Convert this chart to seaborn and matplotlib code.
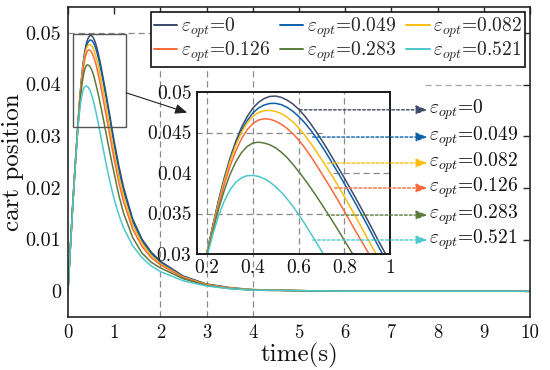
import matplotlib
matplotlib.use("Agg")
import numpy as np
import pandas as pd
import matplotlib.pyplot as plt
import matplotlib.ticker as mticker
from matplotlib.patches import Rectangle
from matplotlib.lines import Line2D
import seaborn as sns

# time axis (s)
time = [0, 0.05, 0.1, 0.15,
        0.2, 0.225, 0.25, 0.275, 0.3, 0.325, 0.35, 0.375, 0.4, 0.425, 0.45, 0.475,
        0.5, 0.525, 0.55, 0.575, 0.6, 0.625, 0.65, 0.675, 0.7, 0.725, 0.75, 0.775, 0.8,
        0.85, 0.9, 0.95, 1.0,
        1.1, 1.2, 1.4, 1.6, 1.8, 2.0, 2.5, 3.0, 3.5, 4.0, 5.0, 6.0, 8.0, 10.0]

# cart position for each epsilon_opt
pos_0 = [0, 0.0082, 0.0162, 0.0236,
         0.0302, 0.03349, 0.0366, 0.03936, 0.0418, 0.04388, 0.0456, 0.04696, 0.0480,
         0.04873, 0.0492, 0.04946, 0.0495, 0.04934, 0.0490, 0.04853, 0.0479, 0.04711,
         0.0462, 0.04519, 0.0441, 0.0430, 0.0418, 0.0406, 0.0394,
         0.0369, 0.0343, 0.0316, 0.0290,
         0.0243, 0.0202, 0.0140, 0.0101, 0.0076, 0.0058, 0.0029, 0.0014, 0.0007,
         0.0003, 0.0001, 0, 0, 0]
pos_049 = [0, 0.0082, 0.0162, 0.0236,
           0.0302, 0.03344, 0.0365, 0.03922, 0.0416, 0.04358, 0.0452, 0.04646, 0.0474,
           0.04803, 0.0484, 0.04859, 0.0486, 0.04844, 0.0481, 0.04763, 0.0470, 0.04627,
           0.0454, 0.04446, 0.0434, 0.04229, 0.0411, 0.03993, 0.0387,
           0.0362, 0.0336, 0.0309, 0.0282,
           0.0235, 0.0195, 0.0135, 0.0097, 0.0073, 0.0056, 0.0028, 0.0013, 0.0006,
           0.0003, 0.0001, 0, 0, 0]
pos_082 = [0, 0.0082, 0.0162, 0.0236,
           0.0301, 0.03329, 0.0363, 0.03901, 0.0414, 0.04339, 0.0450, 0.04618, 0.0470,
           0.04748, 0.0477, 0.04774, 0.0476, 0.04733, 0.0469, 0.04632, 0.0456, 0.04475,
           0.0438, 0.04278, 0.0417, 0.04062, 0.0395, 0.03832, 0.0371,
           0.0346, 0.0320, 0.0294, 0.0268,
           0.0223, 0.0185, 0.0128, 0.0093, 0.0069, 0.0053, 0.0027, 0.0013, 0.0006,
           0.0003, 0.0001, 0, 0, 0]
pos_126 = [0, 0.0082, 0.0161, 0.0235,
           0.0300, 0.03311, 0.0360, 0.03856, 0.0408, 0.04268, 0.0442, 0.04533, 0.0461,
           0.04654, 0.0467, 0.04664, 0.0464, 0.04602, 0.0455, 0.04486, 0.0441, 0.0432,
           0.0422, 0.04113, 0.0400, 0.03886, 0.0377, 0.03651, 0.0353,
           0.0328, 0.0304, 0.0279, 0.0255,
           0.0210, 0.0174, 0.0120, 0.0087, 0.0065, 0.0051, 0.0026, 0.0012, 0.0006,
           0.0002, 0.0001, 0, 0, 0]
pos_283 = [0, 0.0082, 0.0161, 0.0234,
           0.0299, 0.03284, 0.0355, 0.03783, 0.0398, 0.04134, 0.0425, 0.04327, 0.0437,
           0.04381, 0.0437, 0.04348, 0.0431, 0.04257, 0.0419, 0.04109, 0.0402, 0.03928,
           0.0383, 0.03727, 0.0362, 0.03511, 0.0340, 0.03286, 0.0317,
           0.0294, 0.0271, 0.0249, 0.0228,
           0.0186, 0.0152, 0.0104, 0.0074, 0.0056, 0.0045, 0.0024, 0.0011, 0.0005,
           0.0002, 0.0001, 0, 0, 0]
pos_521 = [0, 0.0081, 0.0160, 0.0232,
           0.0297, 0.03241, 0.0347, 0.03652, 0.0379, 0.03883, 0.0394, 0.03967, 0.0397,
           0.03958, 0.0393, 0.03887, 0.0383, 0.03761, 0.0368, 0.03589, 0.0349, 0.03383,
           0.0327, 0.03156, 0.0304, 0.02925, 0.0281, 0.02695, 0.0258,
           0.0236, 0.0215, 0.0196, 0.0178,
           0.0148, 0.0123, 0.0088, 0.0065, 0.0049, 0.0038, 0.0020, 0.0010, 0.0005,
           0.0002, 0.0001, 0, 0, 0]

eps_values = ["0", "0.049", "0.082", "0.126", "0.283", "0.521"]
series = [pos_0, pos_049, pos_082, pos_126, pos_283, pos_521]
colors = ["#3d4a69", "#0b5ea8", "#fbbd0f", "#fa6a3c", "#5a7a3b", "#4cc8cc"]

# label arrows in the inset: start x, y level
arrow_start_x = [0.604, 0.662, 0.727, 0.758, 0.723, 0.662]
arrow_y = [0.0478, 0.04444, 0.04123, 0.03815, 0.03481, 0.03173]

df = pd.DataFrame({
    "time": np.tile(time, len(series)),
    "pos": np.concatenate(series),
    "eps": np.repeat(eps_values, len(time)),
})

sns.set_theme(style="white")
plt.rcParams["font.family"] = ["cmr10", "DejaVu Serif"]
plt.rcParams["mathtext.fontset"] = "cm"
plt.rcParams["axes.formatter.use_mathtext"] = True
plt.rcParams["axes.unicode_minus"] = False

palette = dict(zip(eps_values, colors))
labels = [r"$\varepsilon_{opt}$=" + e for e in eps_values]
frame_col = "#262626"
grid_col = "#8a8a8a"
dash = (0, (5, 3))

fig = plt.figure(figsize=(5.5, 3.7), dpi=100)
ax = fig.add_axes([0.1236, 0.1432, 0.84, 0.8378])

# main-axes dashed guides
for xv in [2, 3, 4]:
    ax.axvline(xv, color=grid_col, lw=0.9, ls=dash, zorder=0)
ax.axhline(0.05, color=grid_col, lw=0.9, ls=dash, zorder=0)
ax.plot([7.73, 10], [0.04, 0.04], color="#aaaaaa", lw=0.9, ls=dash, zorder=0)

sns.lineplot(data=df, x="time", y="pos", hue="eps", hue_order=eps_values,
             palette=palette, ax=ax, legend=False, lw=1.1, estimator=None,
             sort=False)

ax.set_xlim(0, 10)
ax.set_ylim(-0.005, 0.055)
ax.set_xticks(range(0, 11))
ax.set_yticks([0, 0.01, 0.02, 0.03, 0.04, 0.05])
ax.xaxis.set_major_formatter(mticker.FormatStrFormatter("%g"))
ax.yaxis.set_major_formatter(mticker.FormatStrFormatter("%g"))
ax.tick_params(direction="in", top=True, right=True, length=5, width=1,
               color=frame_col, labelsize=13.5, pad=5, labelcolor="#111111")
ax.tick_params(axis="y", labelsize=14.5)
for sp in ax.spines.values():
    sp.set_color(frame_col)
    sp.set_linewidth(1.2)
ax.set_xlabel("time(s)", fontsize=18, labelpad=1, color="#111111")
ax.set_ylabel("cart position", fontsize=18, labelpad=1, color="#111111")

# zoom box and pointer
ax.add_patch(Rectangle((0.115, 0.0318), 1.145, 0.018, fill=False,
                       edgecolor="#555555", lw=1.0, zorder=3))
ax.annotate("", xy=(2.58, 0.03456), xytext=(1.26, 0.0384),
            arrowprops=dict(arrowstyle="-|>,head_length=0.6,head_width=0.25",
                            color="#222222", lw=0.8, shrinkA=0, shrinkB=0))

handles = [Line2D([], [], color=c, lw=1.4) for c in colors]
order = [0, 3, 1, 4, 2, 5]
leg = ax.legend([handles[i] for i in order], [labels[i] for i in order],
                ncol=3, loc="upper right", bbox_to_anchor=(0.99, 0.983),
                borderaxespad=0, fontsize=14, handlelength=1.2,
                handletextpad=0.2, columnspacing=0.5, labelspacing=0.0,
                borderpad=0.15, fancybox=False, framealpha=1,
                edgecolor="#111111")
leg.get_frame().set_linewidth(1.2)

# inset
ax_in = fig.add_axes([0.3582, 0.3135, 0.3509, 0.4378])
ax_in.set_facecolor("white")
for xv in [0.2, 0.4, 0.6, 0.8]:
    ax_in.axvline(xv, color=grid_col, lw=0.9, ls=dash, zorder=0)
ax_in.plot([0.15, 0.72], [0.045, 0.045], color=grid_col, lw=0.9, ls=dash, zorder=0)
ax_in.plot([0.15, 0.72], [0.035, 0.035], color=grid_col, lw=0.9, ls=dash, zorder=0)
ax_in.plot([0.75, 1.0], [0.04, 0.04], color=grid_col, lw=0.9, ls=dash, zorder=0)

sns.lineplot(data=df, x="time", y="pos", hue="eps", hue_order=eps_values,
             palette=palette, ax=ax_in, legend=False, lw=1.1, estimator=None,
             sort=False)
ax_in.set_xlim(0.156, 1.0)
ax_in.set_ylim(0.03, 0.05)
ax_in.set_xticks([0.2, 0.4, 0.6, 0.8, 1.0])
ax_in.set_yticks([0.03, 0.035, 0.04, 0.045, 0.05])
ax_in.xaxis.set_major_formatter(mticker.FormatStrFormatter("%g"))
ax_in.yaxis.set_major_formatter(mticker.FormatStrFormatter("%g"))
ax_in.tick_params(direction="in", length=3, width=0.8, color=frame_col,
                  labelsize=14, pad=4, labelcolor="#111111")
ax_in.set_xlabel("")
ax_in.set_ylabel("")
for sp in ax_in.spines.values():
    sp.set_color("#1a1a1a")
    sp.set_linewidth(1.4)

for x0, yv, c, lab in zip(arrow_start_x, arrow_y, colors, labels):
    ax_in.annotate("", xy=(1.163, yv), xytext=(x0, yv), annotation_clip=False,
                   arrowprops=dict(arrowstyle="-|>,head_length=0.55,head_width=0.22",
                                   color=c, lw=1.0, ls=(0, (2, 1.5)),
                                   shrinkA=0, shrinkB=0))
    ax_in.text(1.171, yv, lab, fontsize=14, va="center", ha="left",
               color="#111111", clip_on=False)

fig.savefig("out.png", dpi=100)
